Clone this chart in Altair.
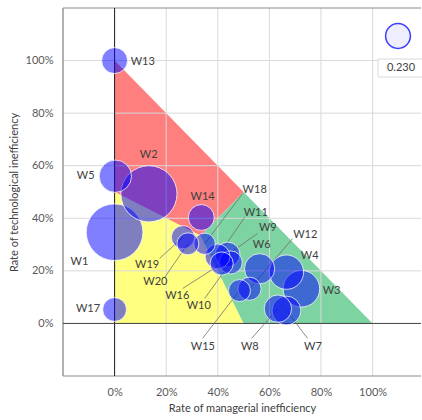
import altair as alt
import pandas as pd

# Decision-making units and their inefficiency decomposition
dmu = [f"W{i}" for i in range(1, 21)]
managerial = [0.000, 0.133, 0.724, 0.666, 0.003, 0.562, 0.666, 0.633, 0.438, 0.450,
              0.399, 0.523, 0.000, 0.336, 0.484, 0.415, 0.000, 0.349, 0.265, 0.284]
technological = [0.347, 0.493, 0.132, 0.195, 0.560, 0.208, 0.049, 0.056, 0.262, 0.232,
                  0.255, 0.132, 1.000, 0.403, 0.125, 0.228, 0.053, 0.303, 0.328, 0.303]
weight = [1.20, 1.18, 0.50, 0.44, 0.39, 0.34, 0.31, 0.28, 0.23, 0.20,
          0.23, 0.20, 0.25, 0.25, 0.18, 0.20, 0.21, 0.17, 0.20, 0.18]

# Label anchors (data units) and leader-line start points (None = no leader)
label_x = [-0.136, 0.132, 0.841, 0.756, -0.112, 0.570, 0.769, 0.524, 0.594, 0.326,
           0.547, 0.739, 0.109, 0.341, 0.342, 0.243, -0.103, 0.543, 0.126, 0.158]
label_y = [0.232, 0.639, 0.125, 0.255, 0.559, 0.297, -0.090, -0.090, 0.364, 0.065,
           0.421, 0.338, 0.996, 0.480, -0.090, 0.106, 0.053, 0.509, 0.224, 0.157]
leader_x = [None, None, None, None, None, None, 0.748, 0.531, 0.554, 0.349,
            0.504, 0.690, None, None, 0.341, 0.264, None, 0.496, 0.174, 0.194]
leader_y = [None, None, None, None, None, None, -0.057, -0.057, 0.342, 0.095,
            0.403, 0.323, None, None, -0.057, 0.133, None, 0.494, 0.247, 0.175]

ticks = [0, 0.2, 0.4, 0.6, 0.8, 1.0]
legend_value = 0.230

# Zones of the unit triangle, split through the centroid
red_x, red_lo, red_hi = [0, 1 / 3, 0.5], [0.5, 1 / 3, 0.5], [1.0, 2 / 3, 0.5]
yel_x, yel_lo, yel_hi = [0, 1 / 3, 0.5], [0, 0, 0], [0.5, 1 / 3, 0]
grn_x, grn_lo, grn_hi = [1 / 3, 0.5, 1.0], [1 / 3, 0, 0], [1 / 3, 0.5, 0]

X_MIN, X_MAX = -0.2, 1.1876
Y_MIN, Y_MAX = -0.2, 1.2

FONT = "Lato"

pts = pd.DataFrame({
    "name": dmu, "x": managerial, "y": technological, "w": weight,
    "lx": label_x, "ly": label_y, "sx": leader_x, "sy": leader_y,
})
leaders = pts.dropna(subset=["sx"])

xs = alt.Scale(domain=[X_MIN, X_MAX], nice=False, zero=False)
ys = alt.Scale(domain=[Y_MIN, Y_MAX], nice=False, zero=False)
x_axis = alt.Axis(values=ticks, format=".0%", grid=False, domain=False, ticks=False,
                  tickSize=0, labelPadding=10, titlePadding=5,
                  title="Rate of managerial inefficiency")
y_axis = alt.Axis(values=ticks, format=".0%", grid=False, domain=False, ticks=False,
                  tickSize=0, labelPadding=10, titlePadding=6,
                  title="Rate of technological inefficiency")


def X(f):
    return alt.X(f, type="quantitative", scale=xs, axis=x_axis)


def Y(f):
    return alt.Y(f, type="quantitative", scale=ys, axis=y_axis)


size_scale = alt.Scale(domain=[0, 1.2], range=[0, 3212])


def zone(xv, lo, hi, color):
    df = pd.DataFrame({"x": xv, "y": lo, "y2": hi})
    return alt.Chart(df).mark_area(color=color, opacity=1).encode(
        x=X("x"), y=Y("y"), y2="y2")


zones = zone(red_x, red_lo, red_hi, "#ff7f7f") + \
    zone(yel_x, yel_lo, yel_hi, "#ffff80") + \
    zone(grn_x, grn_lo, grn_hi, "#7dd3a2")

grid_df = pd.DataFrame({"v": ticks[1:]})
vgrid = alt.Chart(grid_df).mark_rule(color="#d9d9d9", strokeWidth=1).encode(x=X("v"))
hgrid = alt.Chart(grid_df).mark_rule(color="#d9d9d9", strokeWidth=1).encode(y=Y("v"))

# Plot frame on the left, top and bottom sides
frame_v = alt.Chart(pd.DataFrame({"v": [X_MIN]})).mark_rule(
    color="#7f7f7f", strokeWidth=1.2).encode(x=X("v"))
frame_h = alt.Chart(pd.DataFrame({"v": [Y_MIN, Y_MAX]})).mark_rule(
    color="#8c8c8c", strokeWidth=1.2).encode(y=Y("v"))

zero_df = pd.DataFrame({"v": [0]})
vzero = alt.Chart(zero_df).mark_rule(color="#1a1a1a", strokeWidth=1).encode(x=X("v"))
hzero = alt.Chart(zero_df).mark_rule(color="#404040", strokeWidth=1).encode(y=Y("v"))

leader_lines = alt.Chart(leaders).mark_rule(color="#6f6f6f", strokeWidth=0.8).encode(
    x=X("sx"), y=Y("sy"), x2="x", y2="y")

bubbles = alt.Chart(pts).mark_point(
    shape="circle", filled=True, fill="#0000ff", fillOpacity=0.5,
    stroke="white", strokeWidth=1, strokeOpacity=0.75, opacity=1,
).encode(x=X("x"), y=Y("y"),
         size=alt.Size("w:Q", scale=size_scale, legend=None))

labels = alt.Chart(pts).mark_text(font=FONT, fontSize=11, color="#404040",
                                  align="center", baseline="middle").encode(
    x=X("lx"), y=Y("ly"), text="name:N")

# Bubble-size key in the top-right corner
key_df = pd.DataFrame({"w": [legend_value], "t": [f"{legend_value:.3f}"]})
key_box = alt.Chart(key_df).mark_rect(fill="white", stroke="#d9d9d9", strokeWidth=1).encode(
    x=alt.value(315), x2=alt.value(362), y=alt.value(51), y2=alt.value(69))
key_text = alt.Chart(key_df).mark_text(font=FONT, fontSize=11, color="#404040").encode(
    x=alt.value(338), y=alt.value(60), text="t:N")
key_circle = alt.Chart(key_df).mark_point(
    shape="circle", filled=True, fill="#eeeeff", stroke="#3c3cff", strokeWidth=1.5,
    opacity=1).encode(
    x=alt.value(335), y=alt.value(28),
    size=alt.Size("w:Q", scale=size_scale, legend=None))

chart = alt.layer(
    zones, vgrid, hgrid, frame_v, frame_h, vzero, hzero, leader_lines, bubbles, labels,
    key_box, key_text, key_circle,
).properties(
    width=358, height=368,
    autosize=alt.AutoSizeParams(type="none"),
    padding={"left": 63, "top": 8, "right": 1, "bottom": 44},
    background="white",
).configure_view(
    stroke=None,
).configure_axis(
    labelFont=FONT, labelFontSize=11, labelColor="#595959",
    titleFont=FONT, titleFontSize=11, titleColor="#404040", titleFontWeight="normal",
)

chart.save("out.html", embed_options={"renderer": "svg", "actions": False})
